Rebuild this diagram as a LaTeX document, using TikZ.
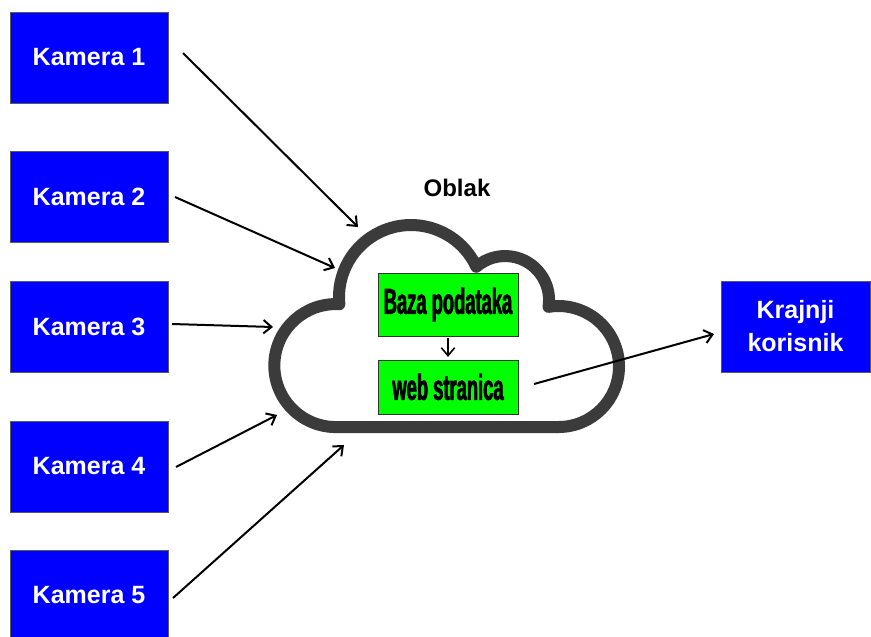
\documentclass[tikz,border=0pt]{standalone}
\usepackage{fontspec}
\setmainfont{Liberation Sans}
\newfontfamily\condfont{Liberation Sans}[FakeStretch=0.51,FakeBold=1.8]
\usetikzlibrary{arrows.meta}
\definecolor{camblue}{RGB}{0,0,255}
\definecolor{dbgreen}{RGB}{0,255,0}
\definecolor{cloudgray}{RGB}{59,59,59}
\newcommand{\camfont}{\fontsize{18.75}{24.75}\selectfont\bfseries}
\newcommand{\dbfont}{\condfont\bfseries\fontsize{27}{30}\selectfont}
\begin{document}
\begin{tikzpicture}[x=0.75pt,y=-0.75pt,
  cam/.style={draw=black!65, line width=0.5pt, fill=camblue, text=white, font=\camfont,
    minimum width=118.5pt, minimum height=68.25pt, inner sep=0pt, align=center},
  db/.style={draw=black!80, line width=0.6pt, fill=dbgreen, text=black, font=\dbfont,
    minimum width=105pt, inner sep=0pt},
  arr/.style={line width=1.5pt, -{Straight Barb[length=6pt,width=10pt]}},
  cloudline/.style={draw=cloudgray, line width=9pt, fill=white, line join=round}]
\useasboundingbox (0,0) rectangle (871,636);
\fill[white] (0,0) rectangle (871,636);
% cloud
\path[cloudline] (558.5,427)
  arc[start angle=90, end angle=-99.5, radius=60.5]
  arc[start angle=8.9, end angle=-130.8, radius=44]
  arc[start angle=-24.9, end angle=-185.7, radius=72]
  arc[start angle=-86.7, end angle=-270, radius=61.5]
  -- cycle;
% nodes
\node[cam] (k1) at (89,57.5) {Kamera 1};
\node[cam] (k2) at (89,197) {Kamera 2};
\node[cam] (k3) at (89,327) {Kamera 3};
\node[cam] (k4) at (89,466.5) {Kamera 4};
\node[cam] (k5) at (89,595.5) {Kamera 5};
\node[cam, minimum width=111.75pt] (user) at (795.5,326.5) {Krajnji\\korisnik};
\node[font=\fontsize{18}{20}\selectfont\bfseries] (oblak) at (457,188) {Oblak};
\node[db, minimum height=47.25pt] (baza) at (448,304.5) {Baza podataka};
\node[db, minimum height=40.5pt] (web) at (448,387) {web stranica};
% connector ends
\coordinate (s1) at (183,53);  \coordinate (e1) at (358,227);
\coordinate (s2) at (175,197); \coordinate (e2) at (335,268);
\coordinate (s3) at (172,324); \coordinate (e3) at (273,327);
\coordinate (s4) at (176,467); \coordinate (e4) at (277,415);
\coordinate (s5) at (173,598); \coordinate (e5) at (344,445);
\coordinate (o1) at (534,384); \coordinate (o2) at (714,334);
% connectors
\draw[arr] (s1) -- (e1);
\draw[arr] (s2) -- (e2);
\draw[arr] (s3) -- (e3);
\draw[arr] (s4) -- (e4);
\draw[arr] (s5) -- (e5);
\draw[arr] (o1) -- (o2);
\draw[arr, line width=1.2pt, shorten <=1pt, shorten >=2pt] (baza.south) -- (web.north);
\end{tikzpicture}
\end{document}
